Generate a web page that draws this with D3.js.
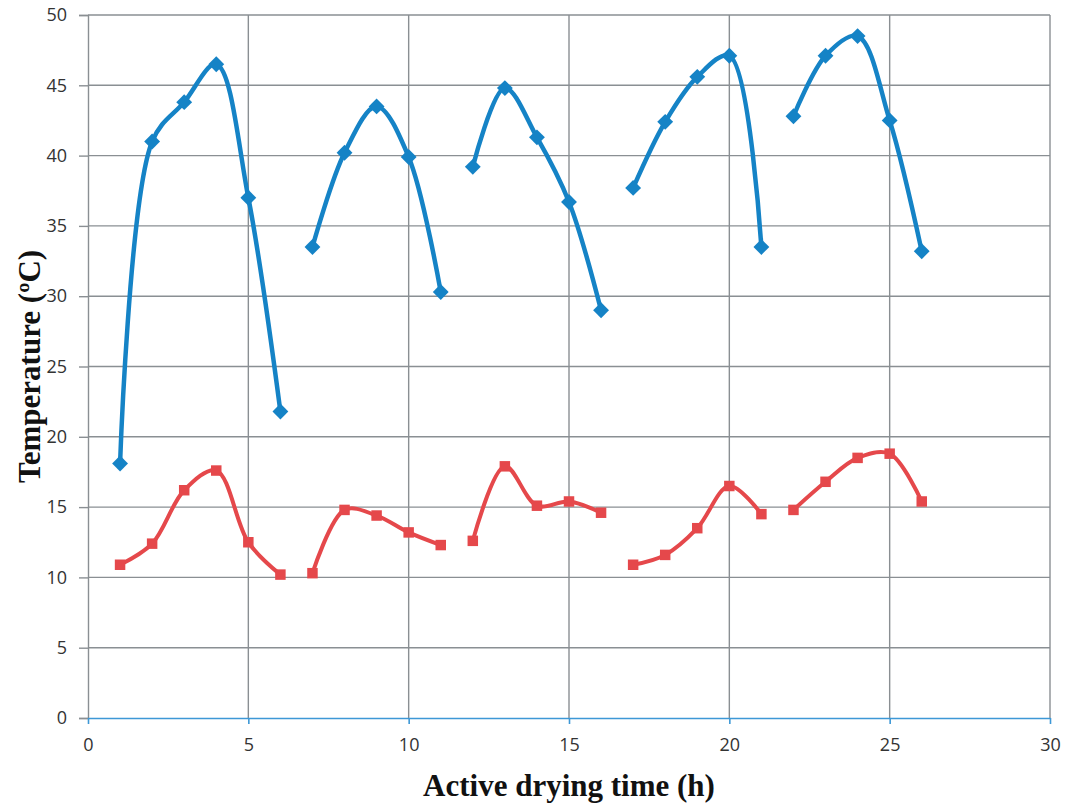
<!DOCTYPE html>
<html>
<head>
<meta charset="utf-8">
<script src="https://cdn.jsdelivr.net/npm/d3@7"></script>
<style>
  body { margin: 0; background: #fff; }
  .tick text { font-family: "Open Sans", "DejaVu Sans", sans-serif; font-size: 18px; fill: #333; }
  .title { font-family: "Liberation Serif", "Times New Roman", serif; font-weight: bold; font-size: 31px; fill: #111; }
</style>
</head>
<body>
<div id="chart"></div>
<script>
// hours of active drying, one run per drying day
var hours = [1, 2, 3, 4, 5, 6, 7, 8, 9, 10, 11, 12, 13, 14, 15, 16, 17, 18, 19, 20, 21, 22, 23, 24, 25, 26]
var day   = [1, 1, 1, 1, 1, 1, 2, 2, 2, 2, 2, 3, 3, 3, 3, 3, 4, 4, 4, 4, 4, 5, 5, 5, 5, 5]
var upperTemp = [18.1, 41.0, 43.8, 46.5, 37.0, 21.8, 33.5, 40.2, 43.5, 39.9, 30.3, 39.2, 44.8, 41.3, 36.7, 29.0, 37.7, 42.4, 45.6, 47.1, 33.5, 42.8, 47.1, 48.5, 42.5, 33.2]
var lowerTemp = [10.9, 12.4, 16.2, 17.6, 12.5, 10.2, 10.3, 14.8, 14.4, 13.2, 12.3, 12.6, 17.9, 15.1, 15.4, 14.6, 10.9, 11.6, 13.5, 16.5, 14.5, 14.8, 16.8, 18.5, 18.8, 15.4]
var xTicks = [0, 5, 10, 15, 20, 25, 30]
var yTicks = [0, 5, 10, 15, 20, 25, 30, 35, 40, 45, 50]

var margin = {top: 15, right: 20, bottom: 85, left: 88},
    width = 1070 - margin.left - margin.right,
    height = 803 - margin.top - margin.bottom;

var x = d3.scaleLinear().domain([0, 30]).range([0, width])
var y = d3.scaleLinear().domain([0, 50]).range([height, 0])

var svg = d3.select("#chart").append("svg")
    .attr("width", 1070)
    .attr("height", 803)
  .append("g")
    .attr("transform", "translate(" + margin.left + "," + margin.top + ")")

// grid
svg.append("g").selectAll("line.h")
  .data(yTicks.slice(1)).enter().append("line")
    .attr("x1", 0).attr("x2", width)
    .attr("y1", d => y(d)).attr("y2", d => y(d))
    .attr("stroke", "#8a8f93").attr("stroke-width", 1.4)
svg.append("g").selectAll("line.v")
  .data(xTicks.slice(1)).enter().append("line")
    .attr("x1", d => x(d)).attr("x2", d => x(d))
    .attr("y1", 0).attr("y2", height)
    .attr("stroke", "#8a8f93").attr("stroke-width", 1.4)

var yAxis = d3.axisLeft(y).tickValues(yTicks).tickSize(9).tickPadding(12)
var gy = svg.append("g").call(yAxis)
gy.selectAll("line, path").attr("stroke", "#8a8f93").attr("stroke-width", 1.4)

var xAxis = d3.axisBottom(x).tickValues(xTicks).tickSize(6).tickPadding(14).tickSizeOuter(0)
var gx = svg.append("g").attr("transform", "translate(0," + height + ")").call(xAxis)
gx.selectAll("line, path").attr("stroke", "#3d98d6").attr("stroke-width", 1.6)

var rows = hours.map((h, i) => ({h: h, day: day[i], up: upperTemp[i], low: lowerTemp[i]}))
var days = d3.groups(rows, d => d.day)

function drawSeries(key, color, width, marker) {
  var line = d3.line()
    .x(d => x(d.h)).y(d => y(d[key]))
    .curve(d3.curveCatmullRom.alpha(0.5))
  svg.append("g").selectAll("path")
    .data(days).enter().append("path")
      .attr("d", d => line(d[1]))
      .attr("fill", "none")
      .attr("stroke", color)
      .attr("stroke-width", width)
  svg.append("g").selectAll("path")
    .data(rows).enter().append("path")
      .attr("transform", d => "translate(" + x(d.h) + "," + y(d[key]) + ")")
      .attr("d", marker)
      .attr("fill", color)
}

drawSeries("low", "#e5484b", 4, d3.symbol().type(d3.symbolSquare).size(110))
drawSeries("up", "#1583c6", 4.5, d3.symbol().type(d3.symbolDiamond2).size(160))

svg.append("text").attr("class", "title")
  .attr("text-anchor", "middle")
  .attr("x", width / 2).attr("y", height + 78)
  .text("Active drying time (h)")

svg.append("text").attr("class", "title")
  .attr("text-anchor", "middle")
  .attr("transform", "translate(" + (-48) + "," + (height / 2) + ") rotate(-90)")
  .text("Temperature (ºC)")
</script>
</body>
</html>
